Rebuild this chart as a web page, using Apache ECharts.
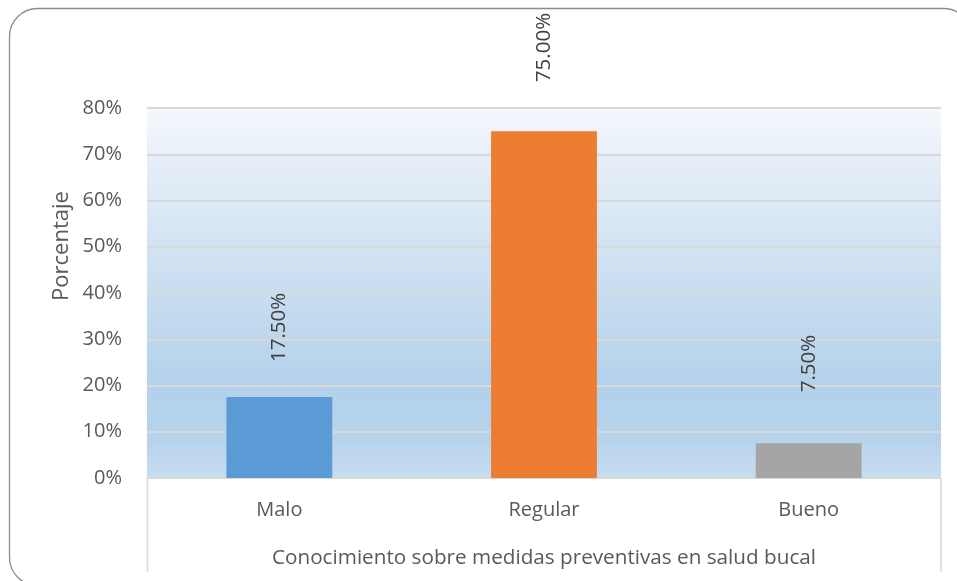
<!DOCTYPE html>
<html>
<head>
<meta charset="utf-8">
<script src="https://cdn.jsdelivr.net/npm/echarts@6/dist/echarts.min.js"></script>
<style>
  html, body { margin: 0; padding: 0; background: #fff; }
  #chart { width: 957px; height: 581px; }
</style>
</head>
<body>
<div id="chart"></div>
<script>
// Conocimiento sobre medidas preventivas en salud bucal (porcentaje)
const categories = ['Malo', 'Regular', 'Bueno'];
const values = [17.5, 75.0, 7.5];
const yTicks = [0, 10, 20, 30, 40, 50, 60, 70, 80];

const barColors = ['#5B9BD5', '#ED7D31', '#A5A5A5'];
const labelGaps = [35, 49, 51];

const FONT = '"Open Sans", "Noto Sans", sans-serif';
const TEXT = '#595959';
const GRID_LINE = '#D9D9D9';

const chart = echarts.init(document.getElementById('chart'), null, { renderer: 'canvas' });

chart.setOption({
  animation: false,
  backgroundColor: '#ffffff',
  textStyle: { fontFamily: FONT, color: TEXT },
  grid: {
    left: 147, right: 16, top: 108, bottom: 103,
    show: true,
    borderWidth: 0,
    backgroundColor: new echarts.graphic.LinearGradient(0, 0, 0, 1, [
      { offset: 0, color: '#F5F8FC' },
      { offset: 0.15, color: '#E5EEF8' },
      { offset: 0.45, color: '#CDDFF1' },
      { offset: 0.75, color: '#B3D1EB' },
      { offset: 0.9, color: '#B7D3EC' },
      { offset: 1, color: '#C8DDEF' }
    ])
  },
  xAxis: {
    type: 'category',
    data: categories,
    name: 'Conocimiento sobre medidas preventivas en salud bucal',
    nameLocation: 'middle',
    nameGap: 70,
    nameTextStyle: { fontSize: 20.7, color: TEXT, fontFamily: FONT },
    axisLine: { show: true, lineStyle: { color: GRID_LINE, width: 1.5 } },
    axisTick: { show: false },
    axisLabel: { fontSize: 20, color: TEXT, margin: 22, fontFamily: FONT }
  },
  yAxis: {
    type: 'value',
    min: yTicks[0],
    max: yTicks[yTicks.length - 1],
    interval: yTicks[1] - yTicks[0],
    axisLine: { show: false },
    axisTick: { show: false },
    splitLine: { show: true, lineStyle: { color: GRID_LINE, width: 2 } },
    axisLabel: {
      fontSize: 20, color: TEXT, margin: 25, fontFamily: FONT,
      formatter: v => v + '%'
    }
  },
  series: [{
    type: 'bar',
    barWidth: '40%',
    data: values.map((v, i) => ({
      value: v,
      itemStyle: { color: barColors[i] },
      label: { distance: labelGaps[i] }
    })),
    label: {
      show: true,
      position: 'top',
      rotate: 90,
      align: 'left',
      verticalAlign: 'middle',
      fontSize: 20.5,
      color: '#404040',
      fontFamily: FONT,
      formatter: p => p.value.toFixed(2) + '%'
    }
  }],
  graphic: [
    {
      type: 'rect',
      silent: true,
      z: -1,
      shape: { x: 9.5, y: 8.5, width: 962, height: 577, r: 28 },
      style: { fill: null, stroke: '#8C8C8C', lineWidth: 1.3 }
    },
    {
      type: 'line',
      silent: true,
      shape: { x1: 147.5, y1: 479, x2: 147.5, y2: 572 },
      style: { stroke: GRID_LINE, lineWidth: 1.5 }
    },
    {
      type: 'line',
      silent: true,
      shape: { x1: 941, y1: 479, x2: 941, y2: 572 },
      style: { stroke: GRID_LINE, lineWidth: 1.5 }
    },
    {
      type: 'text',
      silent: true,
      x: 62,
      y: 246,
      rotation: Math.PI / 2,
      style: {
        text: 'Porcentaje',
        fontSize: 22,
        fontFamily: FONT,
        fill: TEXT,
        align: 'center',
        verticalAlign: 'middle'
      }
    }
  ]
});
</script>
</body>
</html>
